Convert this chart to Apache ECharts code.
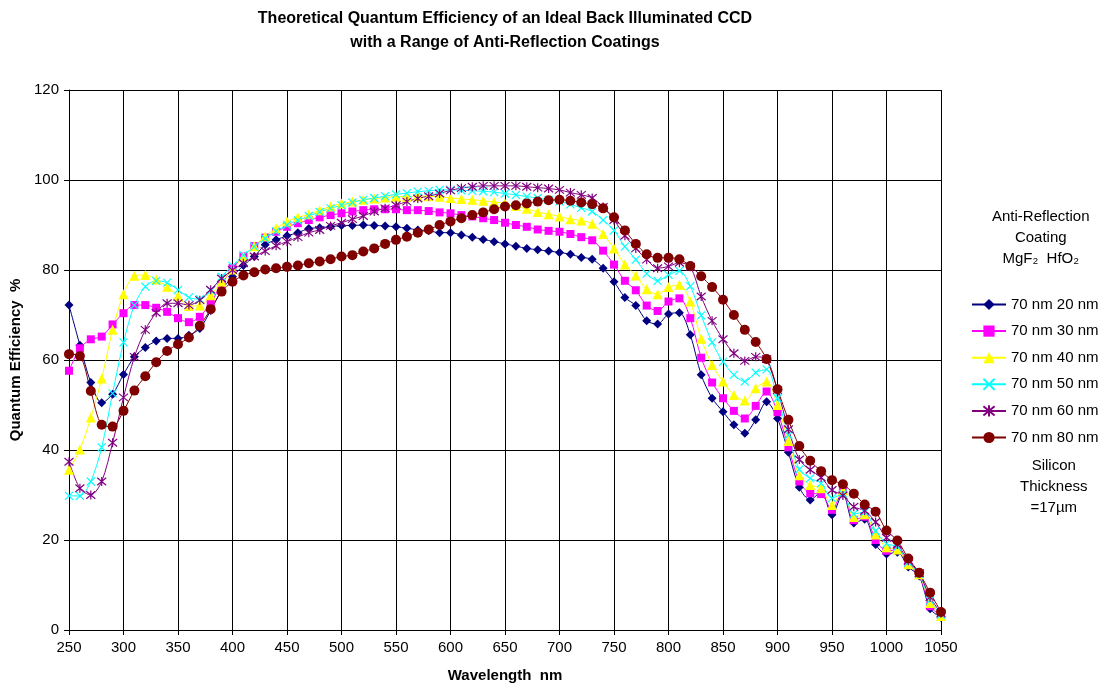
<!DOCTYPE html>
<html>
<head>
<meta charset="utf-8">
<title>Theoretical Quantum Efficiency</title>
<script src="https://cdn.jsdelivr.net/npm/echarts@6/dist/echarts.min.js"></script>
<style>
  html, body { margin: 0; padding: 0; background: #fff; }
  #chart { width: 1109px; height: 695px; }
</style>
</head>
<body>
<div id="chart"></div>
<script>
// Wavelength grid, 250..1050 nm every 10 nm.
var wavelengths = [];
for (var w = 250; w <= 1050; w += 10) wavelengths.push(w);

var xTicks = [250, 300, 350, 400, 450, 500, 550, 600, 650, 700, 750, 800, 850, 900, 950, 1000, 1050];
var yTicks = [0, 20, 40, 60, 80, 100, 120];

var seriesNames = ["70 nm 20 nm", "70 nm 30 nm", "70 nm 40 nm", "70 nm 50 nm", "70 nm 60 nm", "70 nm 80 nm"];

// QE (%), one value per wavelength.
var qe20 = [72.2, 63.3, 55, 50.5, 52.4, 56.8, 60.7, 62.8, 64.2, 64.8, 64.8, 65.5, 67, 71, 75.5, 78.5, 81, 83, 85.6, 86.7,
  87.6, 88.3, 89.2, 89.4, 89.6, 89.9, 89.9, 90, 89.9, 89.8, 89.6, 89.3, 88.9, 88.7, 88.3, 88.3, 87.8, 87.3, 86.8, 86.3,
  85.8, 85.3, 84.8, 84.5, 84.2, 83.9, 83.5, 82.8, 82.4, 80.4, 77.4, 73.9, 72.1, 68.7, 68, 70.2, 70.5, 65.6, 56.7, 51.5,
  48.5, 45.6, 43.7, 46.7, 50.7, 47, 39.5, 31.7, 28.9, 30.7, 25.6, 30.4, 23.8, 24.6, 19, 16.9, 17.3, 14, 12, 4.7, 2.8];
var qe30 = [57.6, 62.6, 64.6, 65.2, 67.9, 70.4, 72.2, 72.2, 71.6, 70.7, 69.3, 68.4, 69.6, 72.7, 76.8, 80.4, 83, 85.3, 87.2, 88.5,
  89.6, 90.4, 91.1, 91.7, 92.2, 92.6, 93, 93.3, 93.5, 93.5, 93.5, 93.3, 93.3, 93.1, 92.8, 92.6, 92.2, 91.9, 91.5, 91.1,
  90.5, 90, 89.6, 89, 88.7, 88.5, 88, 87.3, 86.6, 84.3, 81.2, 77.6, 75.5, 72.1, 70.9, 73, 73.7, 69.3, 60.5, 55,
  51.5, 48.7, 47, 49.8, 53, 48.4, 40.6, 33, 30.4, 30.2, 26.7, 31, 24.4, 25.2, 20, 17.6, 17.8, 14.5, 12.3, 5.3, 3.2];
var qe40 = [35.6, 40.1, 47.2, 55.9, 66.7, 74.6, 78.7, 78.9, 77.9, 76.3, 74.2, 72, 72.1, 74.4, 77.4, 80.1, 83, 85.3, 87.5, 89.3,
  90.8, 91.7, 92.4, 93.3, 94.1, 94.8, 95.2, 95.6, 95.9, 96.1, 96.3, 96.3, 96.4, 96.4, 96.3, 96, 95.8, 95.6, 95.4, 95.1,
  94.8, 94.2, 93.6, 92.9, 92.4, 91.9, 91.3, 91, 90.3, 88, 84.8, 81.2, 78.8, 75.7, 74.6, 76.2, 76.7, 73, 64.7, 58.9,
  55.2, 52.2, 51, 53.7, 55.2, 50, 42, 34.4, 32.2, 31.5, 27.8, 31.1, 25.1, 25.7, 21.2, 18.4, 17.9, 14.6, 12.4, 6, 3.1];
var qe50 = [29.8, 29.8, 33, 40.6, 52.6, 63.9, 72.2, 76.3, 77.6, 77.2, 75.6, 73.9, 73.5, 75.4, 78.5, 80.9, 83.3, 85.2, 87, 88.6,
  90, 91, 92, 92.9, 93.7, 94.4, 95, 95.6, 96, 96.4, 96.8, 97.1, 97.4, 97.6, 97.8, 97.8, 97.7, 97.6, 97.5, 97.3,
  97, 96.7, 96.3, 96, 95.6, 95.2, 94.6, 93.8, 93, 91.1, 88.8, 85.2, 82.3, 79.2, 77.6, 78.9, 79.8, 76.4, 69.9, 63.9,
  59.6, 56.7, 55.2, 57.2, 57.9, 51.5, 43.3, 35.7, 33.7, 32.6, 29.3, 30.3, 25.8, 26.2, 22, 19.2, 18.5, 15, 12.5, 6.6, 3.4];
var qe60 = [37.4, 31.5, 30, 33, 41.6, 51.7, 60.7, 66.7, 70.5, 72.6, 72.6, 72.2, 73.3, 75.6, 78.1, 80, 81.5, 83, 84.2, 85.4,
  86.3, 87.3, 88.3, 88.9, 89.8, 90.5, 91.3, 92, 93, 93.7, 94.4, 95.2, 95.9, 96.4, 97, 97.7, 98.2, 98.5, 98.7, 98.7,
  98.7, 98.7, 98.5, 98.3, 98.1, 97.8, 97.2, 96.7, 96, 94, 91.1, 87.6, 84.8, 82.3, 80.4, 80.8, 81.6, 80.7, 74.1, 68.7,
  64.6, 61.5, 59.8, 60.7, 60.2, 53.3, 44.6, 37.9, 35.6, 33.9, 31.1, 29.9, 27.4, 26.5, 24, 20.5, 19, 15.4, 12.6, 7.3, 3.7];
var qe80 = [61.3, 60.9, 53.1, 45.6, 45.2, 48.7, 53.2, 56.4, 59.5, 62, 63.5, 65, 67.6, 71.3, 75.2, 77.4, 78.8, 79.5, 80.1, 80.4,
  80.7, 81, 81.5, 81.9, 82.4, 83, 83.3, 84.1, 84.8, 85.8, 86.7, 87.4, 88.3, 89, 90, 90.8, 91.5, 92.2, 92.8, 93.5,
  94.1, 94.4, 94.8, 95.2, 95.5, 95.6, 95.4, 95, 94.6, 93.7, 91.7, 88.8, 85.8, 83.5, 82.7, 82.7, 82.4, 80.9, 78.6, 76.2,
  73.4, 70, 66.7, 64, 60.2, 53.5, 46.7, 40.9, 37.6, 35.3, 33.3, 32.4, 30.3, 27.9, 26.3, 22.1, 19.9, 15.9, 12.7, 8.3, 4];

var seriesValues = [qe20, qe30, qe40, qe50, qe60, qe80];

var colors = ["#000080", "#FF00FF", "#FFFF00", "#00FFFF", "#800080", "#800000"];
var symbols = [
  "diamond",
  "rect",
  "triangle",
  "path://M0,0L10,10M10,0L0,10",
  "path://M0,0L10,10M10,0L0,10M5,-1L5,11",
  "circle"
];
var symbolSizes = [9, 8, 10, 8, 9, 10];

var FONT = "Liberation Sans, Arial, sans-serif";

function pairs(values) {
  return wavelengths.map(function (w, i) { return [w, values[i]]; });
}

var series = seriesNames.map(function (name, i) {
  var isStroke = i === 3 || i === 4;
  return {
    name: name,
    type: "line",
    smooth: 0.3,
    data: pairs(seriesValues[i]),
    symbol: symbols[i],
    symbolSize: symbolSizes[i],
    showAllSymbol: true,
    lineStyle: { color: colors[i], width: 1 },
    itemStyle: {
      color: colors[i],
      borderColor: colors[i],
      borderWidth: isStroke ? 1.2 : 0
    },
    emphasis: { disabled: true },
    animation: false
  };
});

var chart = echarts.init(document.getElementById("chart"), null, { renderer: "canvas" });

chart.setOption({
  backgroundColor: "#fff",
  textStyle: { fontFamily: FONT },
  title: {
    text: "Theoretical Quantum Efficiency of an Ideal Back Illuminated CCD\nwith a Range of Anti-Reflection Coatings",
    left: 500,
    top: 2,
    textAlign: "center",
    textStyle: { fontFamily: FONT, fontSize: 16, fontWeight: "bold", color: "#000", lineHeight: 24 }
  },
  grid: { left: 69, top: 90, width: 872, height: 540, containLabel: false },
  xAxis: {
    type: "value",
    min: xTicks[0],
    max: xTicks[xTicks.length - 1],
    interval: 50,
    name: "Wavelength  nm",
    nameLocation: "middle",
    nameGap: 38,
    nameTextStyle: { fontFamily: FONT, fontSize: 15, fontWeight: "bold", color: "#000" },
    axisLine: { lineStyle: { color: "#000", width: 1 } },
    axisTick: { show: true, inside: false, length: 5, lineStyle: { color: "#000" } },
    axisLabel: {
      fontFamily: FONT, fontSize: 15, color: "#000", margin: 10,
      showMinLabel: true, showMaxLabel: true,
      formatter: function (v) { return String(v); }
    },
    splitLine: { show: true, lineStyle: { color: "#000", width: 1 } }
  },
  yAxis: {
    type: "value",
    min: yTicks[0],
    max: yTicks[yTicks.length - 1],
    interval: 20,
    name: "Quantum Efficiency  %",
    nameLocation: "middle",
    nameGap: 43,
    nameTextStyle: { fontFamily: FONT, fontSize: 15, fontWeight: "bold", color: "#000" },
    axisLine: { show: true, lineStyle: { color: "#000", width: 1 } },
    axisTick: { show: true, inside: false, length: 5, lineStyle: { color: "#000" } },
    axisLabel: { fontFamily: FONT, fontSize: 15, color: "#000", margin: 10 },
    splitLine: { show: true, lineStyle: { color: "#000", width: 1 } }
  },
  legend: {
    data: seriesNames,
    orient: "vertical",
    left: 966,
    top: 292,
    itemWidth: 34,
    itemHeight: 14,
    itemGap: 11.6,
    textStyle: { fontFamily: FONT, fontSize: 15, color: "#000" },
    selectedMode: false
  },
  graphic: [
    {
      type: "text",
      left: 1044 - 52,
      top: 206,
      style: {
        text: "Anti-Reflection\nCoating\nMgF\u2082  HfO\u2082",
        x: 52,
        textAlign: "center",
        font: "15px " + FONT,
        lineHeight: 21,
        fill: "#000"
      }
    },
    {
      type: "text",
      left: 1060 - 40,
      top: 455,
      style: {
        text: "Silicon\nThickness\n=17\u00b5m",
        x: 40,
        textAlign: "center",
        font: "15px " + FONT,
        lineHeight: 21,
        fill: "#000"
      }
    }
  ],
  series: series
});
</script>
</body>
</html>
